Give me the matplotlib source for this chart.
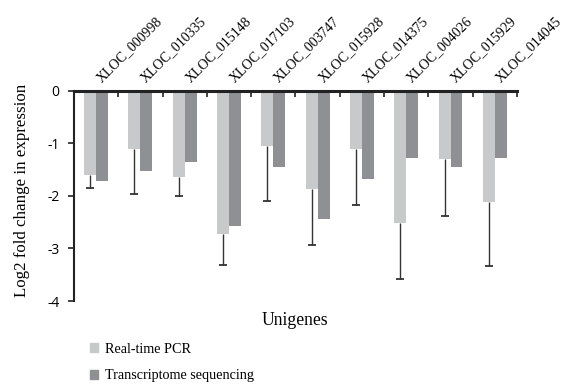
import numpy as np
import matplotlib
matplotlib.use('Agg')
import matplotlib.pyplot as plt
from matplotlib.patches import Patch

# Values
genes = ['XLOC_000998', 'XLOC_010335', 'XLOC_015148', 'XLOC_017103', 'XLOC_003747',
         'XLOC_015928', 'XLOC_014375', 'XLOC_004026', 'XLOC_015929', 'XLOC_014045']
pcr = [-1.60, -1.10, -1.63, -2.72, -1.05, -1.86, -1.10, -2.51, -1.30, -2.12]
pcr_err = [0.24, 0.86, 0.37, 0.59, 1.04, 1.07, 1.07, 1.07, 1.08, 1.21]
seq = [-1.71, -1.52, -1.35, -2.58, -1.44, -2.44, -1.68, -1.28, -1.45, -1.28]
yticks = [0, -1, -2, -3, -4]

light = '#c8c9cb'
dark = '#8f9093'
serif = 'Liberation Serif'

fig = plt.figure(figsize=(5.75, 3.9), dpi=100)
ax = fig.add_axes([0.1287, 0.2282, 0.7704, 0.5385])

x = np.arange(len(genes))
w = 0.27
ax.bar(x - w / 2, pcr, w, color=light)
ax.bar(x + w / 2, seq, w, color=dark)

# one-sided error bars (downwards only)
eb = ax.errorbar(x - w / 2, pcr, yerr=[pcr_err, np.zeros(len(pcr))], fmt='none',
                 ecolor='#333333', elinewidth=1.0, capsize=3, capthick=1.3)
eb[1][1].set_visible(False)

ax.set_xlim(-0.5, len(genes) - 0.5)
ax.set_ylim(-4, 0)

# zero line on top, group boundary ticks pointing down
ax.spines['bottom'].set_visible(False)
ax.spines['right'].set_visible(False)
ax.spines['top'].set_linewidth(2.2)
ax.spines['top'].set_color('#222222')
ax.spines['left'].set_linewidth(1.5)
ax.spines['left'].set_color('#222222')
ax.xaxis.set_ticks_position('top')
ax.set_xticks(np.arange(len(genes) + 1) - 0.5)
ax.set_xticklabels([''] * (len(genes) + 1))
ax.tick_params(axis='x', which='major', direction='in', length=4, width=1.2, color='#222222')
# labels sit a little right of the group centre, as in the original
ax.set_xticks(x + 0.12, minor=True)
ax.set_xticklabels(genes, minor=True, rotation=45, ha='left', va='baseline',
                   rotation_mode='anchor', fontfamily=serif, fontsize=10)
ax.tick_params(axis='x', which='minor', length=0, pad=6)

ax.set_yticks(yticks)
ax.set_yticklabels([str(t) for t in yticks], fontfamily='Open Sans', fontsize=10)
ax.tick_params(axis='y', direction='out', length=4.5, width=1.2, color='#222222', pad=6)

ax.set_ylabel('Log2 fold change in expression', fontfamily=serif, fontsize=12.2)
ax.yaxis.set_label_coords(-0.10, 0.526)
fig.text(0.513, 0.179, 'Unigenes', ha='center', va='center', fontfamily=serif, fontsize=12.7)

handles = [Patch(color=light, label='Real-time PCR'),
           Patch(color=dark, label='Transcriptome sequencing')]
fig.legend(handles=handles, loc='upper left', bbox_to_anchor=(0.157, 0.121), frameon=False,
           prop={'family': serif, 'size': 10.2}, handlelength=0.56, handleheight=0.56,
           handletextpad=0.45, labelspacing=0.95, borderpad=0, borderaxespad=0)

fig.savefig('out.png', dpi=100)
